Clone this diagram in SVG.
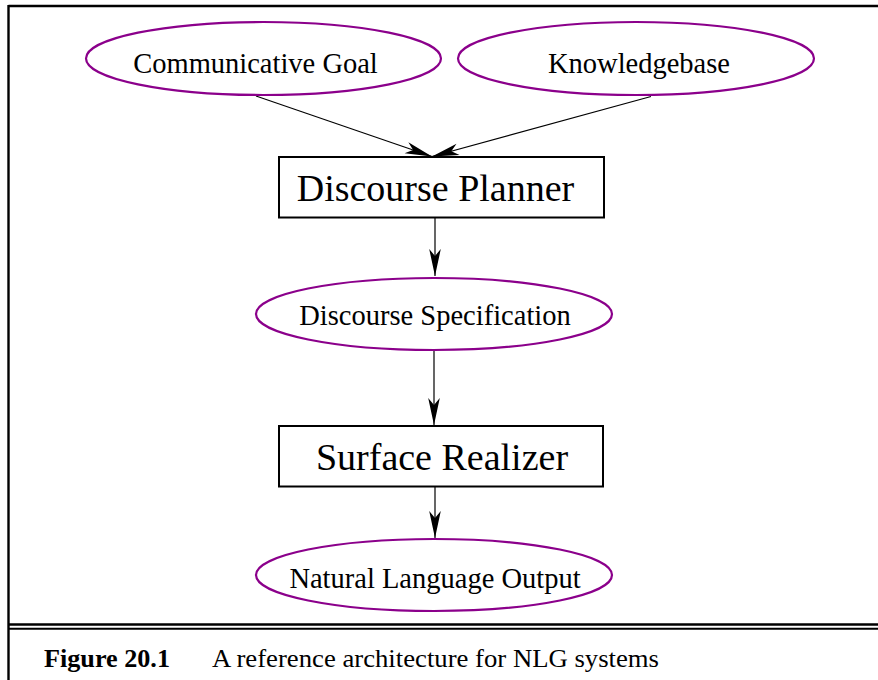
<svg xmlns="http://www.w3.org/2000/svg" width="878" height="680" viewBox="0 0 878 680">
  <style>
    .ell { fill: #ffffff; stroke: #8b008b; stroke-width: 2.2; }
    .box { fill: #ffffff; stroke: #000000; stroke-width: 2; }
    text { font-family: 'Liberation Serif', 'Times New Roman', serif; fill: #000; }
    .lbl { font-size: 28.5px; text-anchor: middle; }
    .big { font-size: 38px; text-anchor: middle; }
    .cap { font-size: 25px; }
    .edge { stroke: #000; stroke-width: 1.2; fill: none; marker-end: url(#head); }
    .frame { stroke: #000; fill: none; }
  </style>
  <defs>
    <marker id="head" markerUnits="userSpaceOnUse" markerWidth="30" markerHeight="14" viewBox="-27 -7 28 14" refX="0" refY="0" orient="auto">
      <path d="M0,0 L-27,-5.8 L-20,0 L-27,5.8 Z" fill="#000"/>
    </marker>
  </defs>
  <rect width="878" height="680" fill="#ffffff"/>

  <g id="frame">
    <line class="frame" x1="8.5" y1="6" x2="878" y2="6" stroke-width="2.4"/>
    <line class="frame" x1="8.5" y1="5" x2="8.5" y2="680" stroke-width="2.4"/>
    <line class="frame" x1="8.5" y1="624.5" x2="878" y2="624.5" stroke-width="2.5"/>
    <line class="frame" x1="8.5" y1="628.8" x2="878" y2="628.8" stroke-width="2"/>
  </g>

  <g id="connectors">
    <line class="edge" x1="256" y1="96" x2="432" y2="156.5"/>
    <line class="edge" x1="651" y1="96.5" x2="432" y2="156.5"/>
    <line class="edge" x1="435" y1="218" x2="435" y2="276"/>
    <line class="edge" x1="434" y1="351" x2="434" y2="425"/>
    <line class="edge" x1="435" y1="487" x2="435" y2="538"/>
  </g>

  <g id="communicative-goal">
    <ellipse class="ell" cx="263.5" cy="58.5" rx="177.5" ry="36.5"/>
    <text class="lbl" x="255.5" y="72.5">Communicative Goal</text>
  </g>
  <g id="knowledgebase">
    <ellipse class="ell" cx="636" cy="58.5" rx="178" ry="36.5"/>
    <text class="lbl" x="639" y="72.5">Knowledgebase</text>
  </g>
  <g id="discourse-planner">
    <rect class="box" x="279" y="157" width="325" height="60.5"/>
    <text class="big" x="435.5" y="201">Discourse Planner</text>
  </g>
  <g id="discourse-specification">
    <ellipse class="ell" cx="434" cy="314" rx="178" ry="36"/>
    <text class="lbl" x="435" y="325">Discourse Specification</text>
  </g>
  <g id="surface-realizer">
    <rect class="box" x="279" y="426" width="324" height="60.5"/>
    <text class="big" x="442" y="470">Surface Realizer</text>
  </g>
  <g id="natural-language-output">
    <ellipse class="ell" cx="434" cy="575" rx="178" ry="36"/>
    <text class="lbl" x="435" y="588">Natural Language Output</text>
  </g>

  <g id="caption">
    <text class="cap" x="44" y="667" font-weight="bold" textLength="126" lengthAdjust="spacingAndGlyphs">Figure 20.1</text>
    <text class="cap" x="212" y="667" textLength="447" lengthAdjust="spacingAndGlyphs">A reference architecture for NLG systems</text>
  </g>
</svg>
